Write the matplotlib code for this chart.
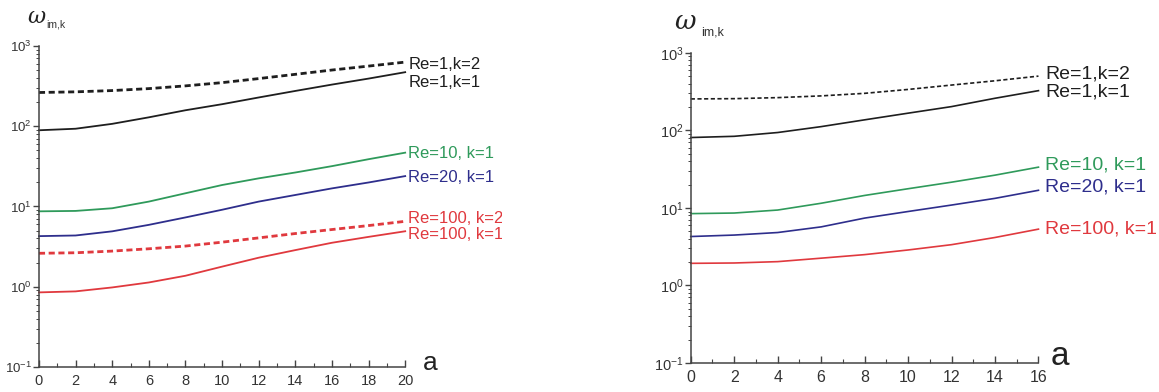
import numpy as np
import matplotlib.pyplot as plt
from matplotlib.transforms import Bbox, TransformedBbox

plt.rcParams['font.family'] = ['Liberation Sans']
plt.rcParams['mathtext.fontset'] = 'custom'
plt.rcParams['mathtext.rm'] = 'Liberation Sans'
plt.rcParams['mathtext.it'] = 'DejaVu Serif:italic'

# --- left panel data ---
a_left = [0, 2, 4, 6, 8, 10, 12, 14, 16, 18, 20]
left_re1_k2 = [263, 268, 278, 294, 318, 349, 392, 443, 501, 561, 629]
left_re1_k1 = [89, 93, 107, 129, 158, 188, 228, 275, 330, 392, 471]
left_re10_k1 = [8.7, 8.8, 9.5, 11.5, 14.6, 18.5, 22.4, 26.5, 31.8, 38.8, 46.8]
left_re20_k1 = [4.27, 4.35, 4.9, 5.9, 7.3, 9.1, 11.5, 13.9, 16.8, 19.9, 23.9]
left_re100_k2 = [2.61, 2.65, 2.78, 2.97, 3.21, 3.59, 4.06, 4.6, 5.16, 5.78, 6.53]
left_re100_k1 = [0.85, 0.875, 0.98, 1.13, 1.37, 1.78, 2.30, 2.86, 3.53, 4.18, 4.91]

# --- right panel data ---
a_right = [0, 2, 4, 6, 8, 10, 12, 14, 16]
right_re1_k2 = [255, 257, 265, 279, 301, 338, 385, 437, 502]
right_re1_k1 = [81, 84, 94, 112, 137, 167, 203, 260, 326]
right_re10_k1 = [8.45, 8.6, 9.4, 11.5, 14.5, 17.7, 21.5, 26.5, 33.6]
right_re20_k1 = [4.28, 4.47, 4.82, 5.7, 7.4, 9.0, 10.9, 13.3, 16.9]
right_re100_k1 = [1.93, 1.95, 2.03, 2.25, 2.5, 2.87, 3.36, 4.16, 5.33]

BLACK = '#1e1e1e'
GREEN = '#2f9a5b'
BLUE = '#2e2e8c'
RED = '#e0393e'

fig = plt.figure(figsize=(11.59, 3.92), dpi=100)
ax1 = fig.add_axes([0.0336, 0.0638, 0.316, 0.819])
ax2 = fig.add_axes([0.596, 0.074, 0.300, 0.791])


def style_axes(ax, xmax, ticksize):
    ax.set_yscale('log')
    ax.set_ylim(0.1, 1000)
    ax.set_xlim(0, xmax)
    ax.set_xticks(np.arange(0, xmax + 1, 2))
    ax.set_xticks(np.arange(1, xmax, 2), minor=True)
    for s in ['top', 'right']:
        ax.spines[s].set_visible(False)
    for s in ['left', 'bottom']:
        ax.spines[s].set_color('#444444')
        ax.spines[s].set_linewidth(1.1)
    ax.tick_params(axis='x', which='major', direction='in', length=5,
                   width=1, color='#444444', labelsize=ticksize, pad=5)
    ax.tick_params(axis='x', which='minor', direction='in', length=3,
                   width=0.8, color='#444444')
    ax.tick_params(axis='y', which='major', direction='out', length=4,
                   width=1, color='#444444', labelsize=ticksize - 1, pad=1)
    ax.tick_params(axis='y', which='minor', direction='out', length=2.5,
                   width=0.7, color='#444444')
    for lab in ax.get_xticklabels() + ax.get_yticklabels():
        lab.set_color('#333333')


style_axes(ax1, 20, 10.5)
style_axes(ax2, 16, 11.5)

# left panel curves: (values, colour, dashed, label, label offset in px)
left_curves = [
    (left_re1_k2, BLACK, True, 'Re=1,k=2', (3, -2)),
    (left_re1_k1, BLACK, False, 'Re=1,k=1', (3, -10)),
    (left_re10_k1, GREEN, False, 'Re=10, k=1', (3, -1)),
    (left_re20_k1, BLUE, False, 'Re=20, k=1', (3, -1)),
    (left_re100_k2, RED, True, 'Re=100, k=2', (3, 3)),
    (left_re100_k1, RED, False, 'Re=100, k=1', (3, -3)),
]
clip = TransformedBbox(Bbox.from_extents(0, 0, 502 / 1159, 1), fig.transFigure)
for vals, col, dashed, lab, off in left_curves:
    if dashed:
        ax1.plot(a_left, vals, color=col, lw=2.0, ls=(0, (2.2, 1.3)), clip_on=False)
    else:
        ax1.plot(a_left, vals, color=col, lw=1.3, clip_on=False)
    t = ax1.annotate(lab, xy=(a_left[-1], vals[-1]), xytext=off,
                     textcoords='offset pixels', color=col, fontsize=12,
                     ha='left', va='center', annotation_clip=False)
    t.set_clip_on(True)
    t.set_clip_box(clip)

right_curves = [
    (right_re1_k2, BLACK, True, 'Re=1,k=2', (7, 2)),
    (right_re1_k1, BLACK, False, 'Re=1,k=1', (7, -1)),
    (right_re10_k1, GREEN, False, 'Re=10, k=1', (7, 2)),
    (right_re20_k1, BLUE, False, 'Re=20, k=1', (7, 3)),
    (right_re100_k1, RED, False, 'Re=100, k=1', (7, 0)),
]
for vals, col, dashed, lab, off in right_curves:
    if dashed:
        ax2.plot(a_right, vals, color=col, lw=1.2, ls=(0, (2.5, 1.5)), clip_on=False)
    else:
        ax2.plot(a_right, vals, color=col, lw=1.2, clip_on=False)
    ax2.annotate(lab, xy=(a_right[-1], vals[-1]), xytext=off,
                 textcoords='offset pixels', color=col, fontsize=14,
                 ha='left', va='center', annotation_clip=False)

# axis names
ax1.annotate(r'$\omega$', xy=(0, 1), xycoords='axes fraction', xytext=(-2, 28),
             textcoords='offset pixels', fontsize=16, ha='center', va='center',
             color='#222222')
ax1.annotate('im,k', xy=(0, 1), xycoords='axes fraction', xytext=(7, 21),
             textcoords='offset pixels', fontsize=7.5, ha='left', va='center',
             color='#333333')
ax1.annotate('a', xy=(1, 0), xycoords='axes fraction', xytext=(25, 4),
             textcoords='offset pixels', fontsize=19, ha='center', va='center',
             color='#222222')

ax2.annotate(r'$\omega$', xy=(0, 1), xycoords='axes fraction', xytext=(-5, 31),
             textcoords='offset pixels', fontsize=19, ha='center', va='center',
             color='#222222')
ax2.annotate('im,k', xy=(0, 1), xycoords='axes fraction', xytext=(10, 20),
             textcoords='offset pixels', fontsize=9, ha='left', va='center',
             color='#333333')
ax2.annotate('a', xy=(1, 0), xycoords='axes fraction', xytext=(21, 6),
             textcoords='offset pixels', fontsize=24, ha='center', va='center',
             color='#222222')

fig.savefig('out.png', dpi=100)
